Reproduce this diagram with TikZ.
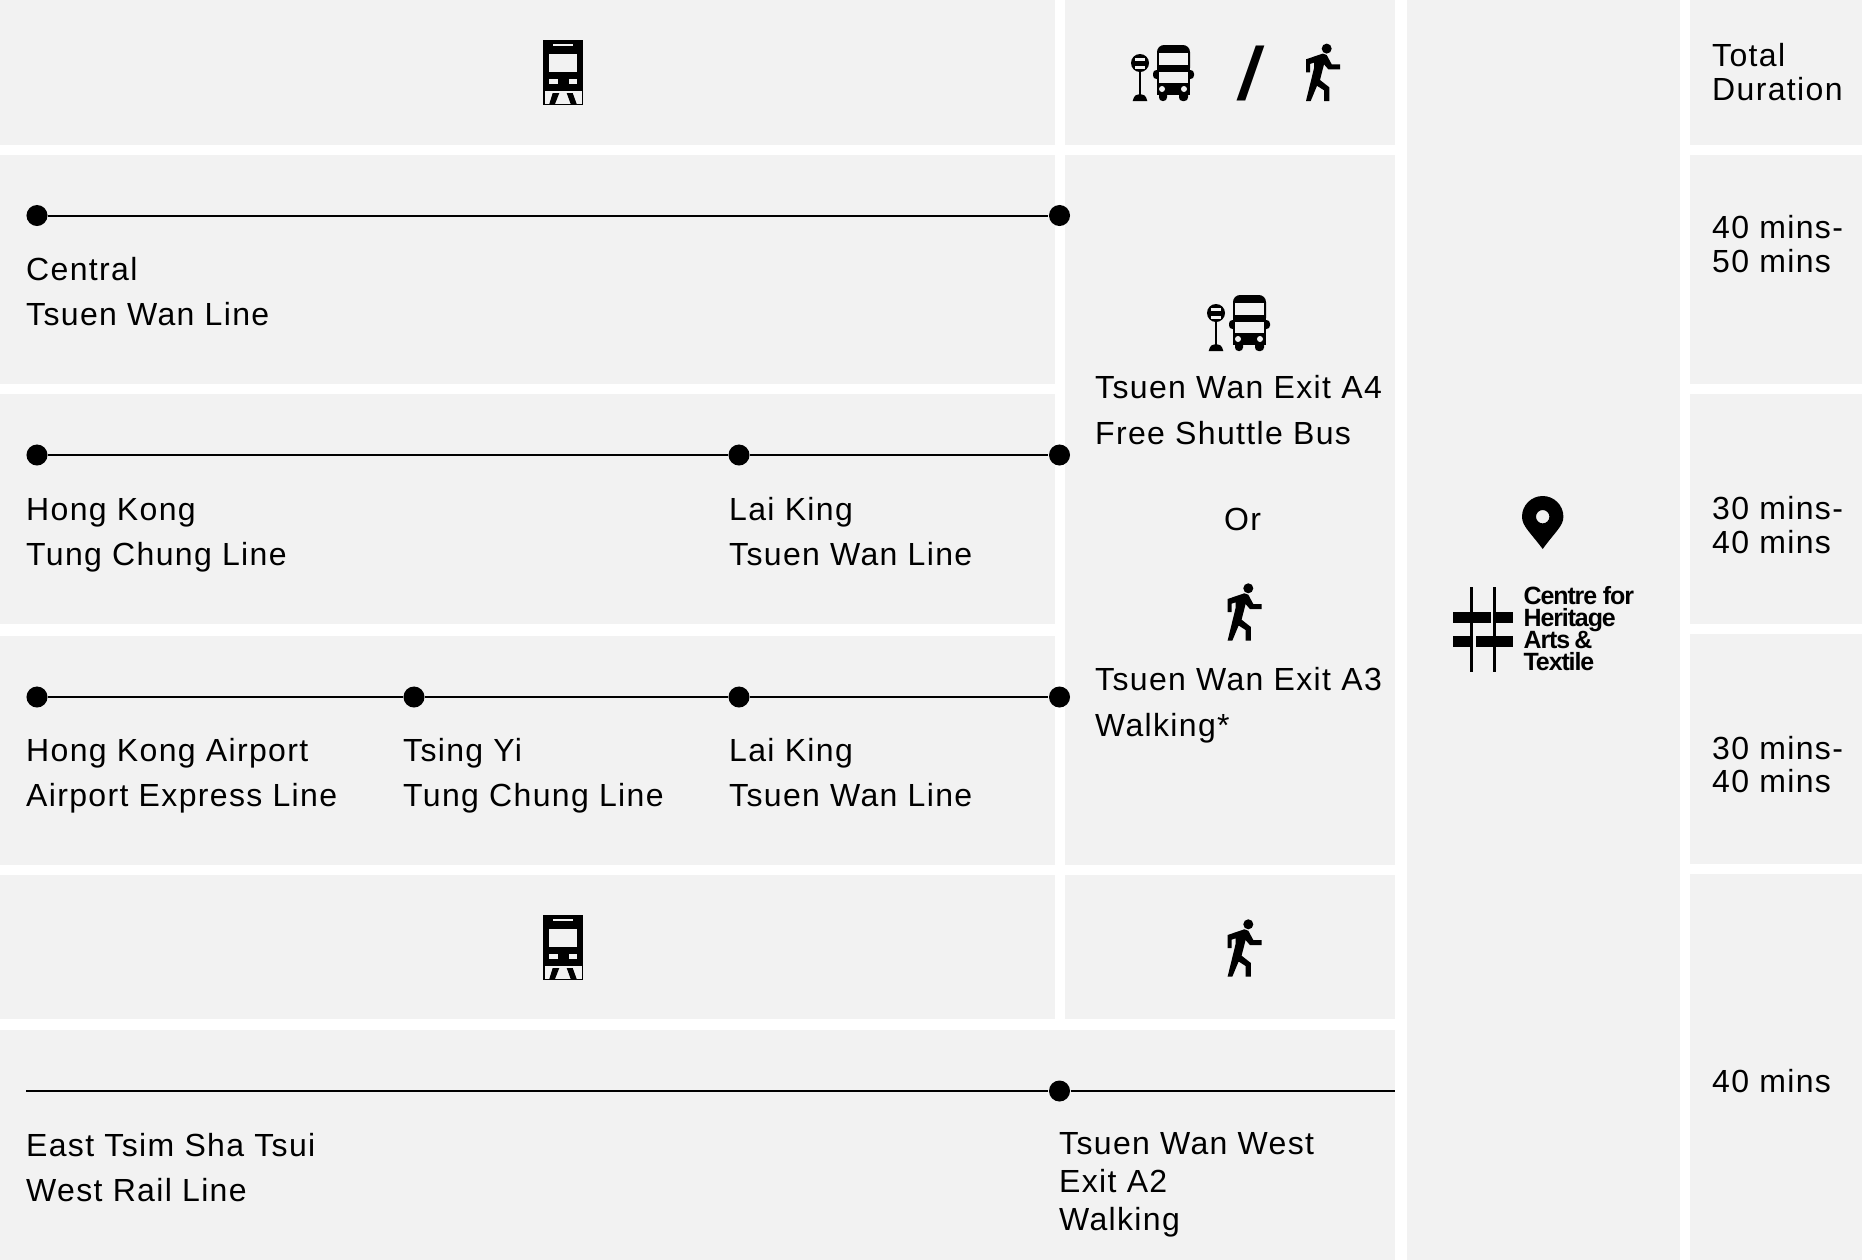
\documentclass[tikz,border=0pt]{standalone}
\usepackage{fontspec}
\setmainfont[LetterSpace=4.2]{Liberation Sans}
\newfontfamily\logofont[LetterSpace=-4.5]{Liberation Sans}
\definecolor{panelgrey}{HTML}{F2F2F2}
\tikzset{
    panel/.style={fill=panelgrey},
    routeline/.style={line width=0.57pt, black},
    stopdot/.style={circle, fill=black, inner sep=0pt, minimum size=0.21cm},
    lbl/.style={anchor=base west, inner sep=0pt, align=left, font=\fontsize{9.1}{12.9}\selectfont},
    tightlbl/.style={lbl, font=\fontsize{9.1}{9.4}\selectfont},
    midlbl/.style={lbl, font=\fontsize{9.1}{10.8}\selectfont},
    logolbl/.style={anchor=base west, inner sep=0pt, align=left, font=\logofont\bfseries\fontsize{7.1}{6.3}\selectfont\lineskiplimit-20pt\relax},
    trainicon/.pic={
        \fill[black] (0, 0) rectangle (40, 65);
        \fill[panelgrey] (10, 4) rectangle (30, 6);
        \fill[panelgrey] (5.7, 14) rectangle (34, 32);
        \fill[panelgrey] (5.7, 38.7) rectangle (14.5, 44);
        \fill[panelgrey] (25.5, 38.7) rectangle (34, 44);
        \fill[panelgrey] (1.7, 50.7) rectangle (38.5, 63.7);
        \fill[black] (6.3, 64) -- (12, 64) -- (16.3, 53) -- (9.7, 53) -- cycle;
        \fill[black] (27.7, 64) -- (33.7, 64) -- (29.7, 53) -- (23.7, 53) -- cycle;
    },
    busicon/.pic={
        \fill[black, rounded corners=2pt] (0, 30) -- (0, 0) -- (33, 0) -- (33, 30) -- cycle;
        \fill[black] (0, 20) rectangle (33, 50);
        \fill[black, rounded corners=1pt] (-4, 25) rectangle (37, 34);
        \fill[black, rounded corners=1pt] (2, 45) rectangle (10, 56);
        \fill[black, rounded corners=1pt] (22, 45) rectangle (31, 56);
        \fill[panelgrey] (2, 8) rectangle (31, 20);
        \fill[panelgrey] (2, 27) rectangle (31, 38);
        \fill[panelgrey] (5, 44) circle (3);
        \fill[panelgrey] (27, 44) circle (3);
        \fill[black] (-17, 18) circle (9);
        \fill[panelgrey] (-22, 12.5) rectangle (-12, 15.5);
        \fill[panelgrey] (-22, 21) rectangle (-12, 23.5);
        \fill[black] (-18, 25) rectangle (-16, 52);
        \fill[black] (-24.3, 56) .. controls (-23, 50) and (-20, 49) .. (-17, 49) .. controls (-14, 49) and (-11, 50) .. (-9.7, 56) -- cycle;
    },
    walkicon/.pic={
        \fill[black] (20.7, 5.3) circle (5);
        \fill[black] (0, 16) -- (16.7, 10.3) -- (20.7, 11.7) -- (25.7, 21) -- (34, 21) -- (34, 26)
            -- (22.3, 26) -- (18, 21) -- (14, 36.7) -- (23.3, 44) -- (23.3, 57.7) -- (18, 57.7)
            -- (18, 47) -- (11, 42.5) -- (4.7, 57.7) -- (0, 57.7) -- (8, 25) -- (8, 19.3)
            -- (4, 20.7) -- (4, 29) -- (0, 29) -- cycle;
    },
}
\begin{document}
\begin{tikzpicture}[x=0.01cm, y=-0.01cm]
    \useasboundingbox (0, 0) rectangle (1862, 1260);
    % panels
    \fill[panel] (0, 0) rectangle (1055, 145);
    \fill[panel] (0, 155) rectangle (1055, 384);
    \fill[panel] (0, 394) rectangle (1055, 624);
    \fill[panel] (0, 636) rectangle (1055, 865);
    \fill[panel] (0, 875) rectangle (1055, 1019);
    \fill[panel] (1065, 0) rectangle (1395, 145);
    \fill[panel] (1065, 155) rectangle (1395, 865);
    \fill[panel] (1065, 875) rectangle (1395, 1019);
    \fill[panel] (0, 1030) rectangle (1395, 1260);
    \fill[panel] (1407, 0) rectangle (1680, 1260);
    \fill[panel] (1690, 0) rectangle (1862, 145);
    \fill[panel] (1690, 155) rectangle (1862, 384);
    \fill[panel] (1690, 394) rectangle (1862, 624);
    \fill[panel] (1690, 634) rectangle (1862, 864);
    \fill[panel] (1690, 874) rectangle (1862, 1260);

    % icons
    \pic at (543, 40) {trainicon};
    \pic at (543, 915) {trainicon};
    \pic at (1157, 45) {busicon};
    \pic at (1233, 295) {busicon};
    \pic at (1306, 43.3) {walkicon};
    \pic at (1227.6, 583) {walkicon};
    \pic at (1227.6, 919) {walkicon};
    \node[anchor=base, inner sep=0pt, transform shape, xslant=0.16, font=\bfseries\fontsize{21}{21}\selectfont] (slash) at (1246.5, 99.5) {/};

    % routes
    \node[stopdot] (centraldot) at (37, 215.5) {};
    \node[stopdot] (twadot) at (1059.5, 215.5) {};
    \draw[routeline] (centraldot) -- (twadot);
    \node[stopdot] (hkdot) at (37, 455) {};
    \node[stopdot] (lkadot) at (739, 455) {};
    \node[stopdot] (twbdot) at (1059.5, 455) {};
    \draw[routeline] (hkdot) -- (lkadot) -- (twbdot);
    \node[stopdot] (airportdot) at (37, 697) {};
    \node[stopdot] (tsingdot) at (414, 697) {};
    \node[stopdot] (lkbdot) at (739, 697) {};
    \node[stopdot] (twcdot) at (1059.5, 697) {};
    \draw[routeline] (airportdot) -- (tsingdot) -- (lkbdot) -- (twcdot);
    \coordinate (tstsend) at (26, 1091);
    \coordinate (westend) at (1395, 1091);
    \node[stopdot] (twwdot) at (1059.5, 1091) {};
    \draw[routeline] (tstsend) -- (twwdot) -- (westend);

    % labels
    \node[lbl] (central) at (25.5, 325.5) {Central\\Tsuen Wan Line};
    \node[lbl] (hongkong) at (25.5, 565.5) {Hong Kong\\Tung Chung Line};
    \node[lbl] (laiking) at (728.5, 565.5) {Lai King\\Tsuen Wan Line};
    \node[lbl] (airport) at (25.5, 806.5) {Hong Kong Airport\\Airport Express Line};
    \node[lbl] (tsingyi) at (402.5, 806.5) {Tsing Yi\\Tung Chung Line};
    \node[lbl] (laikingb) at (728.5, 806.5) {Lai King\\Tsuen Wan Line};
    \node[lbl] (eastts) at (25.5, 1201.7) {East Tsim Sha Tsui\\West Rail Line};
    \node[midlbl] (twwest) at (1058.5, 1230.5) {Tsuen Wan West\\Exit A2\\Walking};
    \node[lbl] (exitfour) at (1094.5, 444) {Tsuen Wan Exit A4\\Free Shuttle Bus};
    \node[lbl, anchor=base] (orlbl) at (1242.5, 530) {Or};
    \node[lbl] (exitthree) at (1094.5, 736) {Tsuen Wan Exit A3\\Walking*};

    % durations
    \node[tightlbl] (totallbl) at (1711.5, 100) {Total\\Duration};
    \node[tightlbl] (fifty) at (1711.5, 272) {40 mins-\\50 mins};
    \node[tightlbl] (fortya) at (1711.5, 553) {30 mins-\\40 mins};
    \node[tightlbl] (fortyb) at (1711.5, 792.5) {30 mins-\\40 mins};
    \node[tightlbl] (fortyc) at (1711.5, 1092.5) {40 mins};

    % destination
    \fill[black, even odd rule] (1542.7, 549) .. controls (1530, 532) and (1522, 526) .. (1522, 516.7)
        arc[start angle=180, end angle=360, radius=20.7]
        .. controls (1563.4, 526) and (1555, 532) .. (1542.7, 549) -- cycle
        (1542.7, 516.7) circle (6.7);
    \fill[black] (1470.4, 587) rectangle (1473, 672);
    \fill[black] (1493.4, 587) rectangle (1496, 672);
    \fill[black] (1453.3, 611.7) rectangle (1491, 622.7);
    \fill[black] (1496, 611.7) rectangle (1513.3, 622.7);
    \fill[black] (1453.3, 636) rectangle (1470.4, 647.3);
    \fill[black] (1475.7, 636) rectangle (1513.3, 647.3);
    \node[logolbl] (logotext) at (1523, 670.5) {Centre for\\Heritage\\Arts\,\&\\Textile};
\end{tikzpicture}
\end{document}
